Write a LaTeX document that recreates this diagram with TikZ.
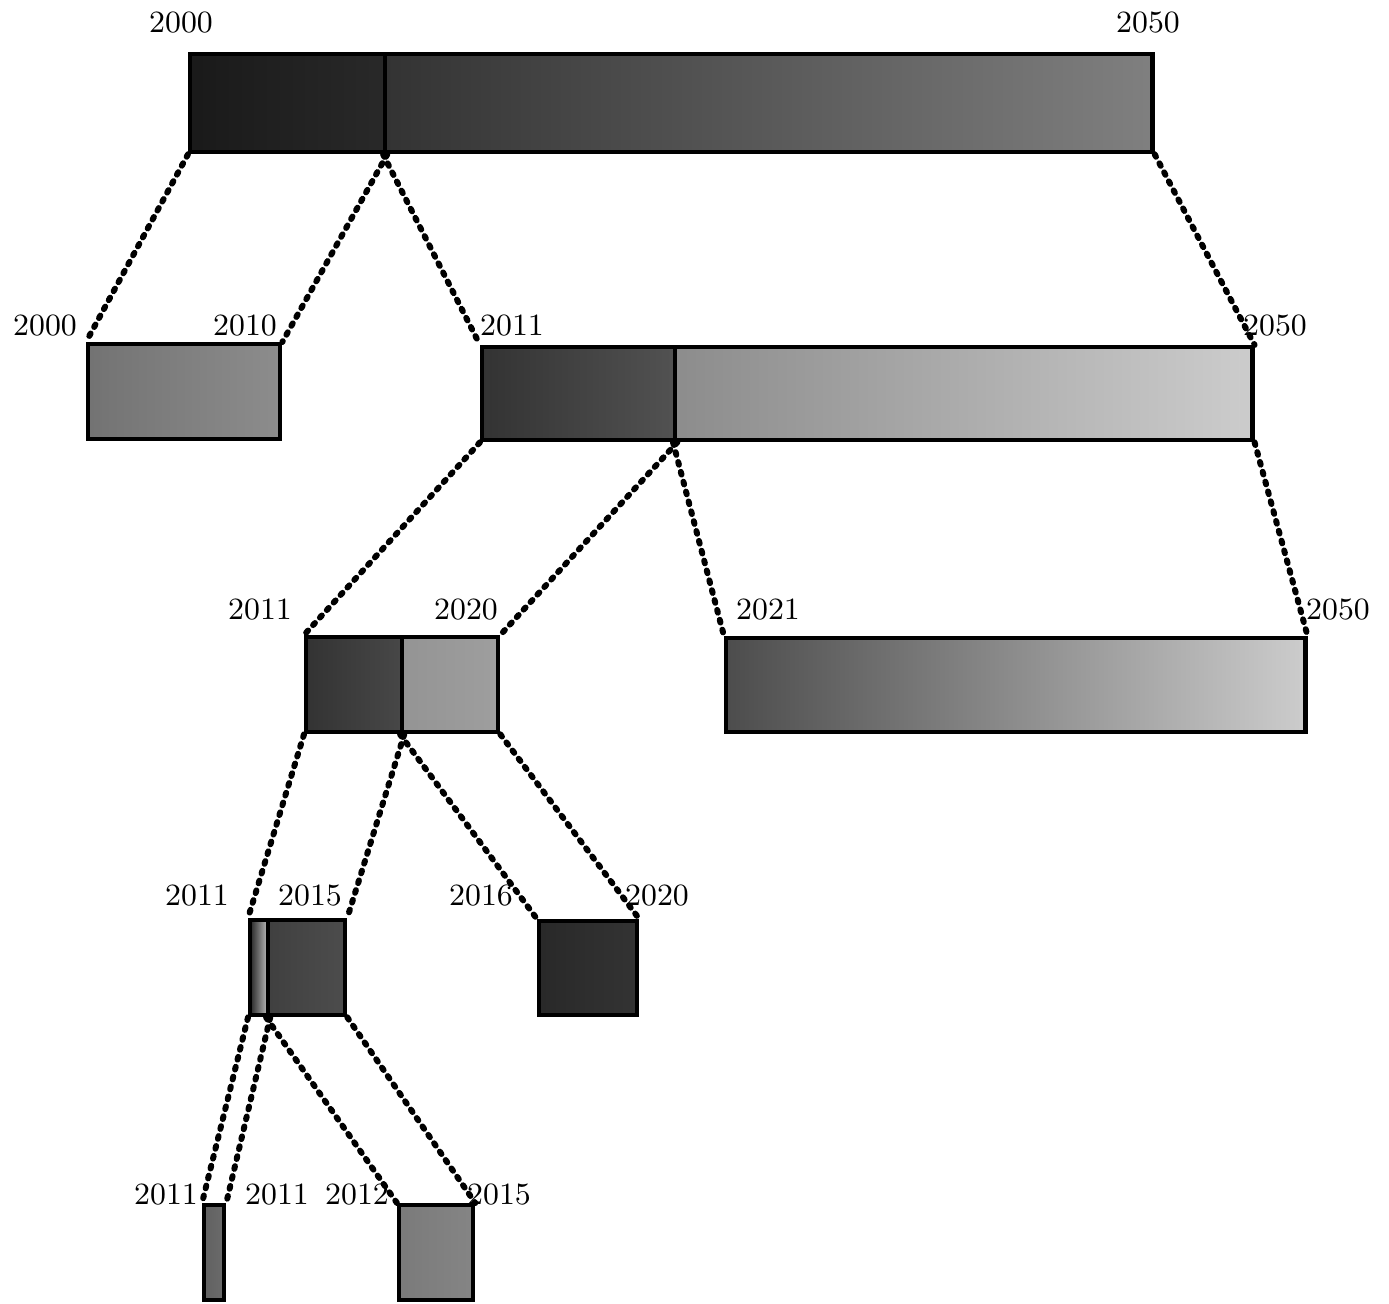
\documentclass[tikz,border=0pt]{standalone}
\usepackage{amsmath}
\usetikzlibrary{calc}

\tikzset{
    bar/.style={draw, line width=1.2pt, rectangle, inner sep=0pt, anchor=north west},
    link/.style={line width=1.7pt, dash pattern=on 0.8pt off 2.1pt, line cap=round},
    yr/.style={inner sep=0pt, font=\fontsize{8.8}{10}\selectfont}
}

\begin{document}
\begin{tikzpicture}[x=0.01cm, y=-0.01cm]
    \useasboundingbox (0,0) rectangle (1389,1303);

    % level 0: 2000--2050
    \node [bar, minimum width=1.95cm, minimum height=0.98cm, left color=black!90, right color=black!84] (A1) at (188,52) {};
    \node [bar, minimum width=7.67cm, minimum height=0.98cm, left color=black!80, right color=black!50] (A2) at (383,52) {};
    \node [yr] (tA0) at (181,23) {2000};
    \node [yr] (tA1) at (1148,23) {2050};

    % level 1
    \node [bar, minimum width=1.92cm, minimum height=0.95cm, left color=black!55, right color=black!45] (B) at (86,342) {};
    \node [bar, minimum width=1.93cm, minimum height=0.93cm, left color=black!80, right color=black!68] (C1) at (480,345) {};
    \node [bar, minimum width=5.77cm, minimum height=0.93cm, left color=black!45, right color=black!20] (C2) at (673,345) {};
    \node [yr] (tB0) at (45,326) {2000};
    \node [yr] (tB1) at (245,326) {2010};
    \node [yr] (tC0) at (512,326) {2011};
    \node [yr] (tC1) at (1275,326) {2050};

    % level 2
    \node [bar, minimum width=0.96cm, minimum height=0.95cm, left color=black!80, right color=black!72] (D1) at (304,635) {};
    \node [bar, minimum width=0.96cm, minimum height=0.95cm, left color=black!42, right color=black!38] (D2) at (400,635) {};
    \node [bar, minimum width=5.79cm, minimum height=0.94cm, left color=black!70, right color=black!20] (E) at (724,636) {};
    \node [yr] (tD0) at (260,610) {2011};
    \node [yr] (tD1) at (466,610) {2020};
    \node [yr] (tE0) at (768,610) {2021};
    \node [yr] (tE1) at (1338,610) {2050};

    % level 3
    \node [bar, minimum width=0.18cm, minimum height=0.95cm, left color=black!85, right color=black!25] (F1) at (248,918) {};
    \node [bar, minimum width=0.77cm, minimum height=0.95cm, left color=black!75, right color=black!70] (F2) at (266,918) {};
    \node [bar, minimum width=0.98cm, minimum height=0.94cm, left color=black!84, right color=black!80] (G) at (537,919) {};
    \node [yr] (tF0) at (197,896) {2011};
    \node [yr] (tF1) at (310,896) {2015};
    \node [yr] (tG0) at (481,896) {2016};
    \node [yr] (tG1) at (657,896) {2020};

    % level 4
    \node [bar, minimum width=0.20cm, minimum height=0.95cm, left color=black!62, right color=black!58] (H) at (202,1203) {};
    \node [bar, minimum width=0.74cm, minimum height=0.95cm, left color=black!52, right color=black!48] (I) at (397,1203) {};
    \node [yr] (tH0) at (166,1195) {2011};
    \node [yr] (tH1) at (277,1195) {2011};
    \node [yr] (tI0) at (357,1195) {2012};
    \node [yr] (tI1) at (499,1195) {2015};

    % zoom lines
    \draw [link] (A1.south west) -- (B.north west);
    \draw [link] (A1.south east) -- (B.north east);
    \draw [link] (A2.south west) -- (C1.north west);
    \draw [link] (A2.south east) -- (C2.north east);

    \draw [link] (C1.south west) -- (D1.north west);
    \draw [link] (C1.south east) -- (D2.north east);
    \draw [link] (C2.south west) -- (E.north west);
    \draw [link] (C2.south east) -- (E.north east);

    \draw [link] (D1.south west) -- (F1.north west);
    \draw [link] (D1.south east) -- (F2.north east);
    \draw [link] (D2.south west) -- (G.north west);
    \draw [link] (D2.south east) -- (G.north east);

    \draw [link] (F1.south west) -- (H.north west);
    \draw [link] (F1.south east) -- (H.north east);
    \draw [link] (F2.south west) -- (I.north west);
    \draw [link] (F2.south east) -- (I.north east);
\end{tikzpicture}
\end{document}
